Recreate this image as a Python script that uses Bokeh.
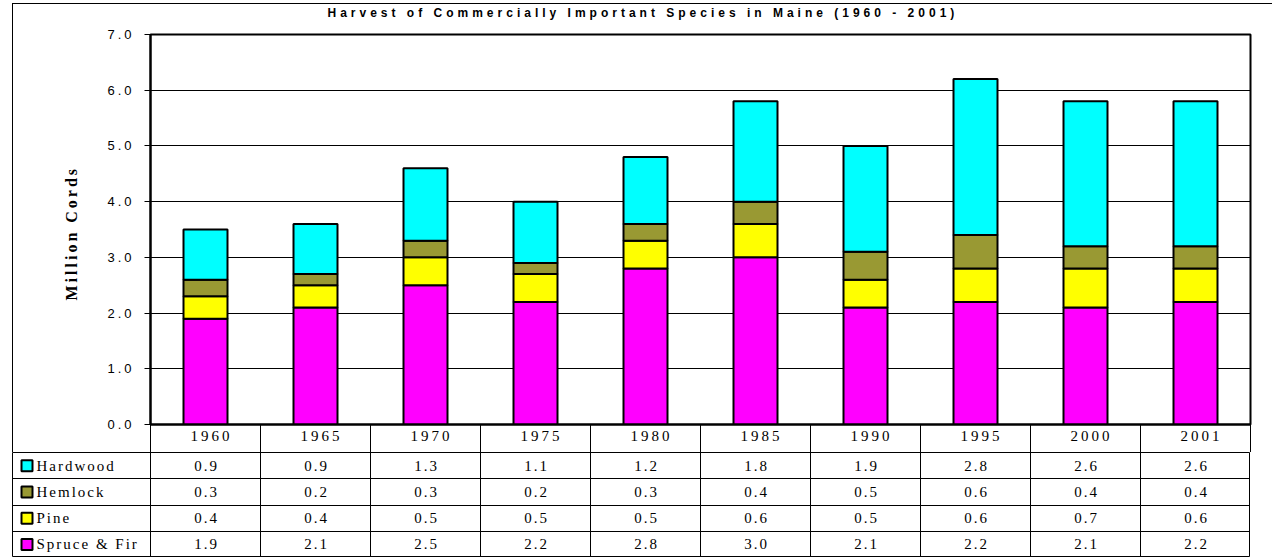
import numpy as np
from bokeh.plotting import figure
from bokeh.models import (ColumnDataSource, Range1d, FixedTicker, LinearAxis, Title,
                          NumeralTickFormatter, Column, InlineStyleSheet, Grid)
from bokeh.embed import file_html
from bokeh.resources import INLINE
from bokeh.core.properties import value

# ---------------- data ----------------
title_text = "Harvest of Commercially Important Species in Maine (1960 - 2001)"
y_label = "Million Cords"
years = ["1960", "1965", "1970", "1975", "1980", "1985", "1990", "1995", "2000", "2001"]
spruce_fir = [1.9, 2.1, 2.5, 2.2, 2.8, 3.0, 2.1, 2.2, 2.1, 2.2]
pine = [0.4, 0.4, 0.5, 0.5, 0.5, 0.6, 0.5, 0.6, 0.7, 0.6]
hemlock = [0.3, 0.2, 0.3, 0.2, 0.3, 0.4, 0.5, 0.6, 0.4, 0.4]
hardwood = [0.9, 0.9, 1.3, 1.1, 1.2, 1.8, 1.9, 2.8, 2.6, 2.6]
y_ticks = [0, 1, 2, 3, 4, 5, 6, 7]

series_keys = ["spruce", "pine", "hemlock", "hardwood"]
series_colors = ["#FF00FF", "#FFFF00", "#999933", "#00FFFF"]

n = len(years)
centers = np.arange(n) + 0.5
edges = np.arange(n + 1)

src = ColumnDataSource(dict(x=centers, spruce=spruce_fir, pine=pine,
                            hemlock=hemlock, hardwood=hardwood))

W = 1260
SANS = "Liberation Sans"
SERIF = "Liberation Serif"

# ---------------- title strip ----------------
pt = figure(width=W, height=25, toolbar_location=None, output_backend="svg",
            min_border_left=138, min_border_right=22, min_border_top=0,
            min_border_bottom=0, x_axis_type=None, y_axis_type=None,
            outline_line_color=None)
pt.title.text = title_text
pt.title.text_font = SANS
pt.title.text_font_size = "12px"
pt.title.text_font_style = "bold"
pt.title.text_color = "black"
pt.title.align = "left"
pt.title.offset = 177
pt.title.standoff = 0
pt.styles = {"letter-spacing": "4px"}

# ---------------- bar chart ----------------
pa = figure(width=W, height=424, x_range=Range1d(0, n), y_range=Range1d(0, 7),
            toolbar_location=None, output_backend="svg",
            min_border_left=138, min_border_right=22, min_border_top=6,
            min_border_bottom=28, x_axis_type=None, y_axis_type=None,
            outline_line_color="black", outline_line_width=2)
pa.styles = {"letter-spacing": "3px"}

yaxis = LinearAxis(ticker=FixedTicker(ticks=y_ticks, minor_ticks=[]),
                   formatter=NumeralTickFormatter(format="0.0"))
yaxis.major_tick_out = 6
yaxis.major_tick_in = 0
yaxis.minor_tick_out = 0
yaxis.minor_tick_in = 0
yaxis.axis_line_width = 2
yaxis.axis_line_color = "black"
yaxis.major_tick_line_color = "black"
yaxis.major_label_text_font = SANS
yaxis.major_label_text_font_size = "13px"
yaxis.major_label_text_color = "black"
yaxis.major_label_standoff = 19
pa.add_layout(yaxis, "left")

pa.add_layout(Title(text=y_label, align="left", offset=124, standoff=49,
                    text_font=SERIF, text_font_size="16px",
                    text_font_style="bold", text_color="black"), "left")

xaxis = LinearAxis(ticker=FixedTicker(ticks=list(centers), minor_ticks=list(edges)),
                   major_label_overrides={float(c): yr for c, yr in zip(centers, years)})
xaxis.major_tick_out = 0
xaxis.major_tick_in = 0
xaxis.minor_tick_out = 28
xaxis.minor_tick_in = 0
xaxis.minor_tick_line_color = "black"
xaxis.minor_tick_line_width = 1
xaxis.axis_line_width = 2
xaxis.axis_line_color = "black"
xaxis.major_label_text_font = SERIF
xaxis.major_label_text_font_size = "15px"
xaxis.major_label_text_color = "black"
xaxis.major_label_standoff = -22
pa.add_layout(xaxis, "below")

pa.add_layout(Grid(dimension=1, ticker=yaxis.ticker, grid_line_color="black",
                   grid_line_width=1))

pa.vbar_stack(series_keys, x="x", width=0.4, fill_color=series_colors,
              line_color="black", line_width=2, source=src)

# ---------------- data table ----------------
x0 = -138 / 110
pb = figure(width=1238, height=105, x_range=Range1d(x0, n), y_range=Range1d(0, 4),
            toolbar_location=None, output_backend="svg", min_border=0,
            x_axis_type=None, y_axis_type=None,
            outline_line_color="black", outline_line_width=1)
pb.styles = {"letter-spacing": "2px"}
pb.margin = (0, 0, 0, 12)
pb.add_layout(Grid(dimension=0, ticker=FixedTicker(ticks=list(edges)),
                   grid_line_color="black", grid_line_width=1))
pb.add_layout(Grid(dimension=1, ticker=FixedTicker(ticks=[1, 2, 3]),
                   grid_line_color="black", grid_line_width=1))

table_rows = [("Hardwood", hardwood, "#00FFFF"), ("Hemlock", hemlock, "#999933"),
              ("Pine", pine, "#FFFF00"), ("Spruce & Fir", spruce_fir, "#FF00FF")]
row_y = [3.5, 2.5, 1.5, 0.5]

cx, cy, ct = [], [], []
for (name, vals, col), ry in zip(table_rows, row_y):
    for c, v in zip(centers, vals):
        cx.append(c)
        cy.append(ry)
        ct.append(f"{v:.1f}")
pb.text(x=cx, y=cy, text=ct, text_align="center", text_baseline="middle",
        text_font=value(SERIF), text_font_size="15px", text_color="black",
        x_offset=-2)

key_x = [x0 + 14.5 / 110] * 4
pb.scatter(x=key_x, y=row_y, marker="square", size=11,
           fill_color=[r[2] for r in table_rows], line_color="black", line_width=2)
lab_x = [x0 + 24 / 110] * 4
pb.text(x=lab_x, y=row_y, text=[r[0] for r in table_rows], text_align="left",
        text_baseline="middle", text_font=value(SERIF), text_font_size="15px",
        text_color="black")

outer_css = """
:host { position: relative; }
:host::after {
  content: "";
  position: absolute;
  left: 0; top: 0; right: 0; bottom: 0;
  border-left: 1px solid #000;
  border-top: 1px solid #000;
  box-sizing: border-box;
  pointer-events: none;
}
"""

top = Column(children=[pt, pa], margin=(3, 0, 0, 12),
             stylesheets=[InlineStyleSheet(css=outer_css)])

open("out.html", "w").write(file_html([top, pb], INLINE, title="Harvest"))
